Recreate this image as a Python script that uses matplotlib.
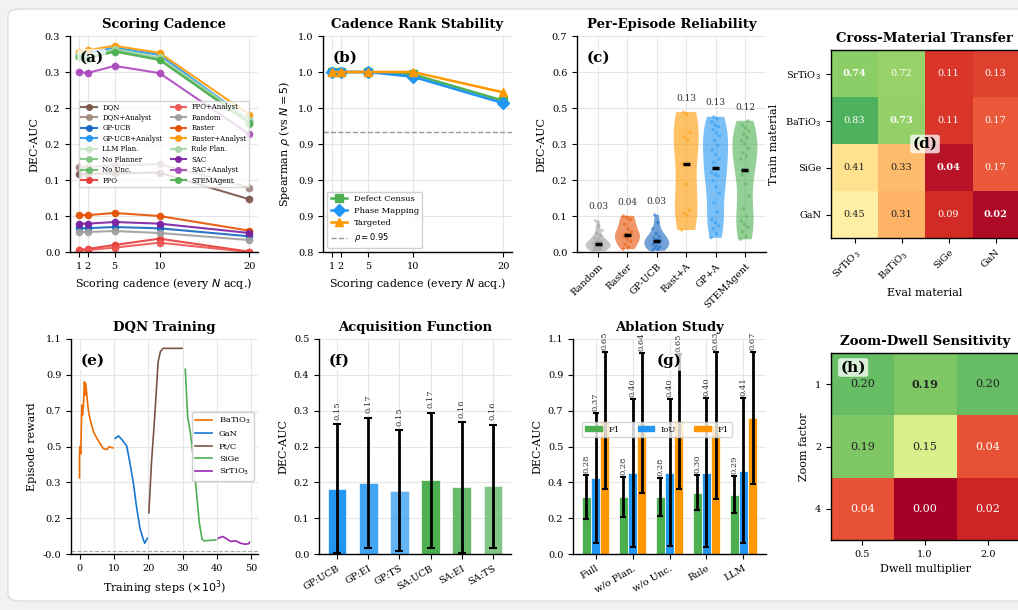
import numpy as np
import matplotlib
matplotlib.use("Agg")
import matplotlib.pyplot as plt
from matplotlib.ticker import FormatStrFormatter
from matplotlib.patches import FancyBboxPatch, Patch

plt.rcParams.update({
    "font.family": "serif",
    "font.serif": ["DejaVu Serif"],
    "mathtext.fontset": "dejavusans",
    "axes.titlesize": 9.5,
    "axes.titleweight": "bold",
    "axes.labelsize": 8,
    "xtick.labelsize": 7,
    "ytick.labelsize": 7,
    "axes.linewidth": 1.0,
})

# ---------------- (a) scoring cadence ----------------
cadence = [1, 2, 5, 10, 20]
method_names = ["DQN", "DQN+Analyst", "GP-UCB", "GP-UCB+Analyst", "LLM Plan.",
                "No Planner", "No Unc.", "PPO", "PPO+Analyst", "Random", "Raster",
                "Raster+Analyst", "Rule Plan.", "SAC", "SAC+Analyst", "STEMAgent"]
method_colors = ["#795548", "#A1887F", "#1565C0", "#2196F3", "#C8E6C9",
                 "#81C784", "#66BB6A", "#E53935", "#EF5350", "#9E9E9E", "#E65100",
                 "#FF9800", "#A5D6A7", "#7B1FA2", "#AB47BC", "#4CAF50"]
dqn = [0.120, 0.120, 0.121, 0.122, 0.081]
dqn_analyst = [0.130, 0.131, 0.133, 0.135, 0.099]
gp_ucb = [0.0364, 0.0366, 0.0384, 0.0364, 0.0241]
gp_ucb_analyst = [0.305, 0.306, 0.314, 0.303, 0.203]
llm_plan = [0.300, 0.296, 0.309, 0.296, 0.200]
no_planner = [0.302, 0.299, 0.311, 0.298, 0.201]
no_unc = [0.301, 0.298, 0.310, 0.297, 0.197]
ppo = [0.0031, 0.0046, 0.0108, 0.0205, 0.0005]
ppo_analyst = [0.0026, 0.0031, 0.0067, 0.0143, 0.0]
random_pol = [0.0307, 0.0307, 0.0323, 0.0292, 0.0184]
raster = [0.0569, 0.0566, 0.0600, 0.0553, 0.0328]
raster_analyst = [0.308, 0.310, 0.317, 0.306, 0.211]
rule_plan = [0.303, 0.300, 0.312, 0.299, 0.203]
sac = [0.0436, 0.0436, 0.0461, 0.0436, 0.0292]
sac_analyst = [0.277, 0.275, 0.286, 0.275, 0.181]
stemagent = [0.300, 0.297, 0.308, 0.295, 0.199]

# ---------------- (b) rank stability ----------------
defect_census = [1.0, 1.0, 1.0, 0.998, 0.976]
phase_mapping = [1.0, 1.0, 1.0, 0.996, 0.974]
targeted = [1.0, 1.0, 1.0, 1.0, 0.983]

# ---------------- (c) per-episode reliability ----------------
violin_names = ["Random", "Raster", "GP-UCB", "Rast+A", "GP+A", "STEMAgent"]
violin_colors = ["#9E9E9E", "#E65100", "#1565C0", "#FF9800", "#2196F3", "#4CAF50"]
ep_random = [0.003, 0.006, 0.008, 0.010, 0.012, 0.014, 0.016, 0.018, 0.020, 0.022,
             0.024, 0.026, 0.027, 0.028, 0.030, 0.033, 0.036, 0.040, 0.045, 0.052,
             0.060, 0.070, 0.085, 0.101]
ep_raster = [0.009, 0.015, 0.025, 0.035, 0.042, 0.050, 0.055, 0.058, 0.065, 0.075,
             0.090, 0.105, 0.112, 0.117]
ep_gp_ucb = [0.004, 0.008, 0.012, 0.016, 0.020, 0.025, 0.030, 0.034, 0.036, 0.040,
             0.045, 0.050, 0.060, 0.075, 0.095, 0.120]
ep_rast_a = [0.071, 0.118, 0.125, 0.136, 0.220, 0.284, 0.360, 0.372, 0.386, 0.446, 0.452]
ep_gp_a = [0.046, 0.060, 0.075, 0.085, 0.095, 0.105, 0.130, 0.160, 0.190, 0.210,
           0.230, 0.245, 0.250, 0.257, 0.270, 0.290, 0.300, 0.315, 0.330, 0.345,
           0.360, 0.375, 0.385, 0.395, 0.405, 0.410, 0.420, 0.430, 0.437]
ep_stem = [0.041, 0.050, 0.065, 0.080, 0.090, 0.100, 0.115, 0.140, 0.180, 0.220,
           0.250, 0.260, 0.265, 0.300, 0.310, 0.320, 0.335, 0.350, 0.360, 0.370,
           0.380, 0.390, 0.400, 0.410, 0.424]
violin_spread = ["0.03", "0.04", "0.03", "0.13", "0.13", "0.12"]

# ---------------- (d) cross-material transfer ----------------
materials = ["SrTiO$_3$", "BaTiO$_3$", "SiGe", "GaN"]
transfer = np.array([[0.74, 0.72, 0.11, 0.13],
                     [0.83, 0.73, 0.11, 0.17],
                     [0.41, 0.33, 0.04, 0.17],
                     [0.45, 0.31, 0.09, 0.02]])

# ---------------- (e) DQN training ----------------
train_names = ["BaTiO$_3$", "GaN", "Pt/C", "SiGe", "SrTiO$_3$"]
train_colors = ["#EF6C00", "#1976D2", "#795548", "#4CAF50", "#9C27B0"]
steps_batio3 = [0.0, 0.0, 0.1, 0.38, 0.67, 0.87, 1.15, 1.44, 1.63, 1.83, 2.4, 2.8, 3.4,
                4.1, 5.1, 6.0, 6.9, 7.98, 8.6, 9.7]
rew_batio3 = [0.37, 0.484, 0.526, 0.49, 0.735, 0.685, 0.735, 0.852, 0.785, 0.843, 0.735,
              0.685, 0.643, 0.60, 0.567, 0.542, 0.517, 0.512, 0.526, 0.52]
steps_gan = [10.4, 11.35, 12.3, 13.3, 13.75, 14.7, 15.7, 16.6, 17.6, 18.6, 19.0, 19.7]
rew_gan = [0.568, 0.58, 0.563, 0.54, 0.53, 0.443, 0.342, 0.225, 0.117, 0.058, 0.041, 0.066]
steps_ptc = [20.2, 20.95, 21.9, 22.9, 23.55, 24.3, 29.9]
rew_ptc = [0.194, 0.443, 0.677, 0.953, 1.003, 1.02, 1.02]
steps_sige = [30.8, 31.5, 32.3, 33.0, 33.9, 34.9, 35.7, 36.3, 37.8, 39.7]
rew_sige = [0.915, 0.677, 0.593, 0.493, 0.325, 0.141, 0.061, 0.053, 0.055, 0.058]
steps_srtio3 = [40.4, 41.6, 42.6, 44.0, 45.5, 46.9, 48.3, 49.3, 49.5]
rew_srtio3 = [0.066, 0.075, 0.066, 0.05, 0.053, 0.041, 0.036, 0.039, 0.046]

# ---------------- (f) acquisition function ----------------
acq_names = ["GP:UCB", "GP:EI", "GP:TS", "SA:UCB", "SA:EI", "SA:TS"]
acq_mean = [0.152, 0.166, 0.147, 0.172, 0.155, 0.157]
acq_err = [0.150, 0.151, 0.141, 0.157, 0.152, 0.144]
acq_labels = ["0.15", "0.17", "0.15", "0.17", "0.16", "0.16"]

# ---------------- (g) ablation ----------------
abl_names = ["Full", "w/o Plan.", "w/o Unc.", "Rule", "LLM"]
abl_f1 = [0.278, 0.278, 0.278, 0.300, 0.290]
abl_f1_err = [0.107, 0.098, 0.093, 0.085, 0.090]
abl_f1_lab = ["0.28", "0.28", "0.28", "0.30", "0.29"]
abl_iou = [0.371, 0.398, 0.398, 0.398, 0.408]
abl_iou_err = [0.319, 0.362, 0.360, 0.366, 0.354]
abl_iou_lab = ["0.37", "0.40", "0.40", "0.40", "0.41"]
abl_f1b = [0.653, 0.640, 0.650, 0.630, 0.665]
abl_f1b_err = [0.336, 0.342, 0.330, 0.360, 0.324]
abl_f1b_lab = ["0.65", "0.64", "0.65", "0.63", "0.67"]

# ---------------- (h) zoom-dwell ----------------
dwell = ["0.5", "1.0", "2.0"]
zoom = ["1", "2", "4"]
sens = np.array([[0.20, 0.19, 0.20],
                 [0.19, 0.15, 0.04],
                 [0.04, 0.00, 0.02]])

W, H = 1018, 610
fig = plt.figure(figsize=(W / 100, H / 100), dpi=100)
fig.patch.set_facecolor("#f2f2f2")
card = FancyBboxPatch((8 / W, 9 / H), 1030 / W, 592 / H,
                      boxstyle="round,pad=0,rounding_size=0.012",
                      transform=fig.transFigure, facecolor="white",
                      edgecolor="#dddddd", linewidth=1.0, zorder=-10)
fig.patches.append(card)


def box(x0, y0, x1, y1):
    return fig.add_axes([x0 / W, (H - y1) / H, (x1 - x0) / W, (y1 - y0) / H])


def style(ax):
    ax.spines["top"].set_visible(False)
    ax.spines["right"].set_visible(False)
    ax.grid(True, color="#e6e6e6", linewidth=0.8)
    ax.set_axisbelow(True)


def lin_ticks(ax, lo, hi):
    ax.set_ylim(lo, hi)
    ax.set_yticks(np.linspace(lo, hi, 7))
    ax.yaxis.set_major_formatter(FormatStrFormatter("%.1f"))


def panel(ax, s, x=0.05, y=0.93, ha="left", va="top"):
    ax.text(x, y, s, transform=ax.transAxes, fontsize=11, fontweight="bold",
            ha=ha, va=va, zorder=10,
            bbox=dict(boxstyle="round,pad=0.15", facecolor="white", alpha=0.75,
                      edgecolor="none"))


# (a)
ax = box(70, 36, 258, 252)
style(ax)
series = [dqn, dqn_analyst, gp_ucb, gp_ucb_analyst, llm_plan, no_planner, no_unc,
          ppo, ppo_analyst, random_pol, raster, raster_analyst, rule_plan, sac,
          sac_analyst, stemagent]
for name, col, vals in zip(method_names, method_colors, series):
    ax.plot(cadence, vals, "-o", color=col, lw=1.5, ms=4.5, label=name, alpha=0.9)
lin_ticks(ax, 0.0, 0.332)
ax.set_xticks(cadence)
ax.set_xlabel("Scoring cadence (every $N$ acq.)")
ax.set_ylabel("DEC-AUC")
ax.set_title("Scoring Cadence")
ax.legend(loc="center", ncol=2, fontsize=5, framealpha=0.8, handlelength=2.2,
          markerscale=0.9, columnspacing=1.2, labelspacing=0.35, edgecolor="#cccccc")
panel(ax, "(a)")

# (b)
ax = box(323, 36, 512, 252)
style(ax)
ax.plot(cadence, defect_census, "-s", color="#4CAF50", lw=1.8, ms=6, label="Defect Census")
ax.plot(cadence, phase_mapping, "-D", color="#2196F3", lw=1.8, ms=6, label="Phase Mapping")
ax.plot(cadence, targeted, "-^", color="#FF9800", lw=1.8, ms=6, label="Targeted")
ax.axhline(0.95, color="#999999", ls="--", lw=1.0, label=r"$\rho = 0.95$")
lin_ticks(ax, 0.85, 1.03)
ax.set_xticks(cadence)
ax.set_xlabel("Scoring cadence (every $N$ acq.)")
ax.set_ylabel(r"Spearman $\rho$ (vs $N = 5$)")
ax.set_title("Cadence Rank Stability")
ax.legend(loc="lower left", fontsize=6, framealpha=0.9, edgecolor="#cccccc")
panel(ax, "(b)")

# (c)
ax = box(577, 36, 766, 252)
style(ax)
groups = [ep_random, ep_raster, ep_gp_ucb, ep_rast_a, ep_gp_a, ep_stem]
pos = np.arange(len(groups))
parts = ax.violinplot(groups, positions=pos, widths=0.85, showextrema=False)
for body, col in zip(parts["bodies"], violin_colors):
    body.set_facecolor(col)
    body.set_edgecolor("none")
    body.set_alpha(0.6)
for i, (vals, col) in enumerate(zip(groups, violin_colors)):
    n = len(vals)
    jit = ((np.arange(n) * 0.618) % 1 - 0.5) * 0.3
    ax.scatter(i + jit, vals, s=6, color=col, alpha=0.5, edgecolor="none", zorder=3)
    ax.hlines(np.median(vals), i - 0.12, i + 0.12, color="black", lw=2.5, zorder=4)
    ax.text(i, max(vals) + 0.03, violin_spread[i], ha="center", va="bottom",
            fontsize=6.5, color="#333333")
lin_ticks(ax, 0.0, 0.698)
ax.set_xticks(pos)
ax.set_xticklabels(violin_names, rotation=45, ha="right", rotation_mode="anchor")
ax.set_ylabel("DEC-AUC")
ax.set_title("Per-Episode Reliability")
panel(ax, "(c)")

# (d)
ax = box(831, 50, 1019, 238)
ax.imshow(transfer, cmap="RdYlGn", vmin=0, vmax=1, aspect="auto")
for r in range(4):
    for c in range(4):
        v = transfer[r, c]
        tc = "white" if (v < 0.2 or v > 0.6) else "#222222"
        ax.text(c, r, f"{v:.2f}", ha="center", va="center", fontsize=7, color=tc,
                fontweight="bold" if r == c else "normal")
ax.set_xticks(range(4))
ax.set_xticklabels(materials, rotation=45, ha="right", rotation_mode="anchor")
ax.set_yticks(range(4))
ax.set_yticklabels(materials)
ax.set_xlabel("Eval material")
ax.set_ylabel("Train material")
ax.set_title("Cross-Material Transfer")
panel(ax, "(d)", x=0.5, y=0.5, ha="center", va="center")

# (e)
ax = box(71, 339, 258, 554)
style(ax)
train_steps = [steps_batio3, steps_gan, steps_ptc, steps_sige, steps_srtio3]
train_rew = [rew_batio3, rew_gan, rew_ptc, rew_sige, rew_srtio3]
for name, col, xs, ys in zip(train_names, train_colors, train_steps, train_rew):
    ax.plot(xs, ys, color=col, lw=1.2, label=name)
ax.axhline(0.0, color="#aaaaaa", ls="--", lw=0.8)
lin_ticks(ax, -0.013, 1.067)
ax.set_xticks([0, 10, 20, 30, 40, 50])
ax.set_xlabel(r"Training steps ($\times 10^3$)")
ax.set_ylabel("Episode reward")
ax.set_title("DQN Training")
ax.legend(loc="center right", fontsize=6, framealpha=0.9, edgecolor="#cccccc")
panel(ax, "(e)")

# (f)
ax = box(319, 339, 511, 554)
style(ax)
acq_cols = ["#2196F3"] * 3 + ["#4CAF50"] * 3
acq_alpha = [1.0, 0.85, 0.7, 1.0, 0.85, 0.7]
xpos = np.arange(len(acq_names))
for i in range(len(acq_names)):
    ax.bar(xpos[i], acq_mean[i], width=0.6, color=acq_cols[i], alpha=acq_alpha[i],
           edgecolor="white", linewidth=0.5)
    ax.errorbar(xpos[i], acq_mean[i], yerr=acq_err[i], color="black", lw=2,
                capsize=3, capthick=1.5)
    ax.text(xpos[i], acq_mean[i] + acq_err[i] + 0.01, acq_labels[i], rotation=90,
            ha="center", va="bottom", fontsize=6, color="#333333")
lin_ticks(ax, 0.0, 0.5)
ax.set_xticks(xpos)
ax.set_xticklabels(acq_names, rotation=30, ha="right", rotation_mode="anchor")
ax.set_ylabel("DEC-AUC")
ax.set_title("Acquisition Function")
panel(ax, "(f)")

# (g)
ax = box(573, 339, 766, 554)
style(ax)
gx = np.arange(len(abl_names))
bw = 0.25
for off, vals, errs, labs, col in [(-bw, abl_f1, abl_f1_err, abl_f1_lab, "#4CAF50"),
                                   (0.0, abl_iou, abl_iou_err, abl_iou_lab, "#2196F3"),
                                   (bw, abl_f1b, abl_f1b_err, abl_f1b_lab, "#FF9800")]:
    ax.bar(gx + off, vals, width=bw, color=col, edgecolor="white", linewidth=0.5)
    ax.errorbar(gx + off, vals, yerr=errs, fmt="none", ecolor="black", lw=2,
                capsize=2.5, capthick=1.5)
    for xi, v, e, lab in zip(gx + off, vals, errs, labs):
        ax.text(xi, v + e + 0.01, lab, rotation=90, ha="center", va="bottom",
                fontsize=6, color="#333333")
lin_ticks(ax, 0.0, 1.052)
ax.set_xticks(gx)
ax.set_xticklabels(abl_names, rotation=30, ha="right", rotation_mode="anchor")
ax.set_ylabel("DEC-AUC")
ax.set_title("Ablation Study")
handles = [Patch(color="#4CAF50", label="F1"), Patch(color="#2196F3", label="IoU"),
           Patch(color="#FF9800", label="F1")]
ax.legend(handles=handles, loc="lower left", bbox_to_anchor=(0.047, 0.544, 0.777, 0.07),
          mode="expand", ncol=3, fontsize=6, borderaxespad=0, framealpha=0.8,
          edgecolor="#cccccc", handleheight=0.5)
panel(ax, "(g)", x=0.5, ha="center")

# (h)
ax = box(831, 353, 1019, 540)
ax.imshow(sens, cmap="RdYlGn", vmin=0, vmax=0.25, aspect="auto")
for r in range(3):
    for c in range(3):
        v = sens[r, c]
        tc = "white" if v < 0.1 else "#222222"
        ax.text(c, r, f"{v:.2f}", ha="center", va="center", fontsize=8, color=tc,
                fontweight="bold" if (r, c) == (0, 1) else "normal")
ax.set_xticks(range(3))
ax.set_xticklabels(dwell)
ax.set_yticks(range(3))
ax.set_yticklabels(zoom)
ax.set_xlabel("Dwell multiplier")
ax.set_ylabel("Zoom factor")
ax.set_title("Zoom-Dwell Sensitivity")
panel(ax, "(h)", x=0.05, y=0.96)

fig.savefig("out.png", dpi=100, facecolor=fig.get_facecolor())
